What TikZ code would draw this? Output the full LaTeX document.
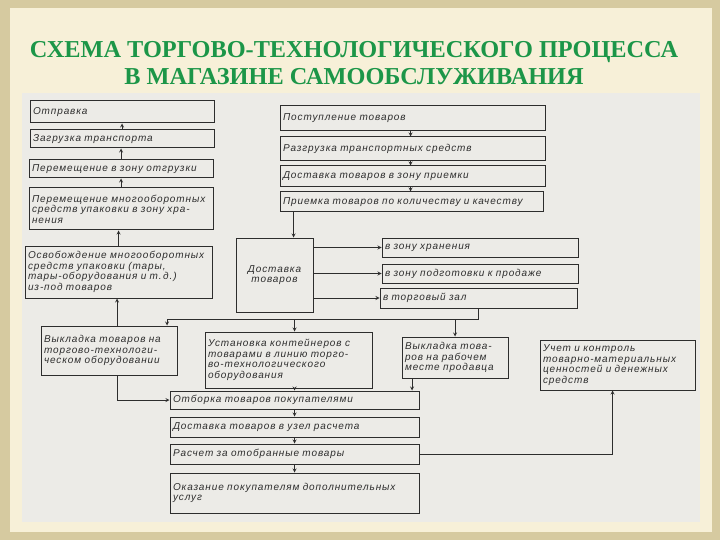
\documentclass[tikz,border=0pt]{standalone}
\usepackage{fontspec}
\setmainfont{Liberation Serif}
\newfontfamily\handfont{Liberation Sans}[LetterSpace=9]
\usepackage{tikz}
\definecolor{ink}{RGB}{45,45,45}
\definecolor{paper}{RGB}{236,235,231}
\definecolor{frame}{RGB}{214,202,160}
\definecolor{cream}{RGB}{247,240,216}
\definecolor{titlegreen}{RGB}{28,150,72}
\tikzset{
  box/.style={draw=ink, line width=1pt, fill=paper, inner xsep=3pt, inner ysep=1pt,
    align=left, text=ink, font=\handfont\itshape\fontsize{10}{10.5}\selectfont},
  link/.style={->, >=stealth, draw=ink, line width=0.8pt}
}

\begin{document}
\begin{tikzpicture}[x=1pt, y=-1pt]
\useasboundingbox (0,0) rectangle (720,540);
\fill[frame] (0,0) rectangle (720,540);
\fill[cream] (10,8) rectangle (712,532);
\fill[paper] (22,93) rectangle (700,522);
\node [font=\bfseries\fontsize{24.3}{27}\selectfont, text=titlegreen, align=center] (title) at (354,63)
  {СХЕМА ТОРГОВО-ТЕХНОЛОГИЧЕСКОГО ПРОЦЕССА\\В МАГАЗИНЕ САМООБСЛУЖИВАНИЯ};

\node [box, text width=178pt, minimum height=22pt] (otpravka) at (122,112) {Отправка};
\node [box, text width=178pt, minimum height=18pt] (zagruzka) at (122,139) {Загрузка транспорта};
\node [box, text width=178pt, minimum height=18pt] (otgruzka) at (121,169) {Перемещение в зону отгрузки};
\node [box, text width=178pt, minimum height=42pt] (tara) at (121,209) {Перемещение многооборотных\\средств упаковки в зону хра-\\нения};
\node [box, text width=181pt, minimum height=52pt] (osvob) at (118.5,272) {Освобождение многооборотных\\средств упаковки (тары,\\тары-оборудования и т.\,д.)\\из-под товаров};
\node [box, text width=130pt, minimum height=49pt] (vyklTO) at (109,350.5) {Выкладка товаров на\\торгово-технологи-\\ческом оборудовании};
\node [box, text width=161pt, minimum height=56pt] (ustanovka) at (288.5,360) {Установка контейнеров с\\товарами в линию торго-\\во-технологического\\оборудования};
\node [box, text width=100pt, minimum height=41pt] (vyklRM) at (455,357.5) {Выкладка това-\\ров на рабочем\\месте продавца};
\node [box, text width=149pt, minimum height=50pt] (uchet) at (617.5,365) {Учет и контроль\\товарно-материальных\\ценностей и денежных\\средств};

\node [box, text width=259pt, minimum height=25pt] (postup) at (412.5,118.5) {Поступление товаров};
\node [box, text width=259pt, minimum height=24pt] (razgruzka) at (412.5,149) {Разгрузка транспортных средств};
\node [box, text width=259pt, minimum height=21pt] (priemzona) at (412.5,176.5) {Доставка товаров в зону приемки};
\node [box, text width=257pt, minimum height=20pt] (priemka) at (411.5,202) {Приемка товаров по количеству и качеству};
\node [box, text width=71pt, minimum height=74pt, align=center] (dostavka) at (274.5,275) {Доставка\\товаров};
\node [box, text width=190pt, minimum height=19pt] (khran) at (480,247.5) {в зону хранения};
\node [box, text width=190pt, minimum height=19pt] (podgot) at (480,273.5) {в зону подготовки к продаже};
\node [box, text width=191pt, minimum height=20pt] (zal) at (478.5,298) {в торговый зал};

\node [box, text width=243pt, minimum height=18pt] (otborka) at (294.5,400) {Отборка товаров покупателями};
\node [box, text width=243pt, minimum height=20pt] (uzel) at (294.5,427) {Доставка товаров в узел расчета};
\node [box, text width=243pt, minimum height=20pt] (raschet) at (294.5,454) {Расчет за отобранные товары};
\node [box, text width=243pt, minimum height=40pt] (uslugi) at (294.5,493) {Оказание покупателям дополнительных\\услуг};

\draw[link] (zagruzka.north) -- (otpravka.south);
\draw[link] (otgruzka.north) -- (otgruzka.north |- zagruzka.south);
\draw[link] (tara.north) -- (tara.north |- otgruzka.south);
\draw[link] (osvob.north) -- (osvob.north |- tara.south);
\draw[link] ([xshift=8pt]vyklTO.north) -- ([xshift=8pt]vyklTO.north |- osvob.south);

\draw[link] ([xshift=-2pt]postup.south) -- ([xshift=-2pt]razgruzka.north);
\draw[link] ([xshift=-2pt]razgruzka.south) -- ([xshift=-2pt]priemzona.north);
\draw[link] ([xshift=-2pt]priemzona.south) -- ([xshift=-2pt]priemzona.south |- priemka.north);
\draw[link] ([xshift=-118pt]priemka.south) -- ([xshift=-118pt]priemka.south |- dostavka.north);
\foreach \z in {khran,podgot,zal}
  \draw[link] (dostavka.east |- \z) -- (\z.west);

\coordinate (bus) at (0,319);
\draw[link] (zal.south) |- ([xshift=58pt]vyklTO.north |- bus) -- ([xshift=58pt]vyklTO.north);
\draw[link] ([xshift=6pt]ustanovka.north |- bus) -- ([xshift=6pt]ustanovka.north);
\draw[link] (vyklRM.north |- bus) -- (vyklRM.north);

\draw[link] ([xshift=8pt]vyklTO.south) |- (otborka.west);
\draw[link] (ustanovka.south -| otborka.north) -- (otborka.north);
\draw[link] ([xshift=-43pt]vyklRM.south) -- ([xshift=-43pt]vyklRM.south |- otborka.north);
\draw[link] (otborka.south) -- (uzel.north);
\draw[link] (uzel.south) -- (raschet.north);
\draw[link] (raschet.south) -- (uslugi.north);
\draw[link] (raschet.east) -| ([xshift=-5pt]uchet.south);
\end{tikzpicture}
\end{document}
